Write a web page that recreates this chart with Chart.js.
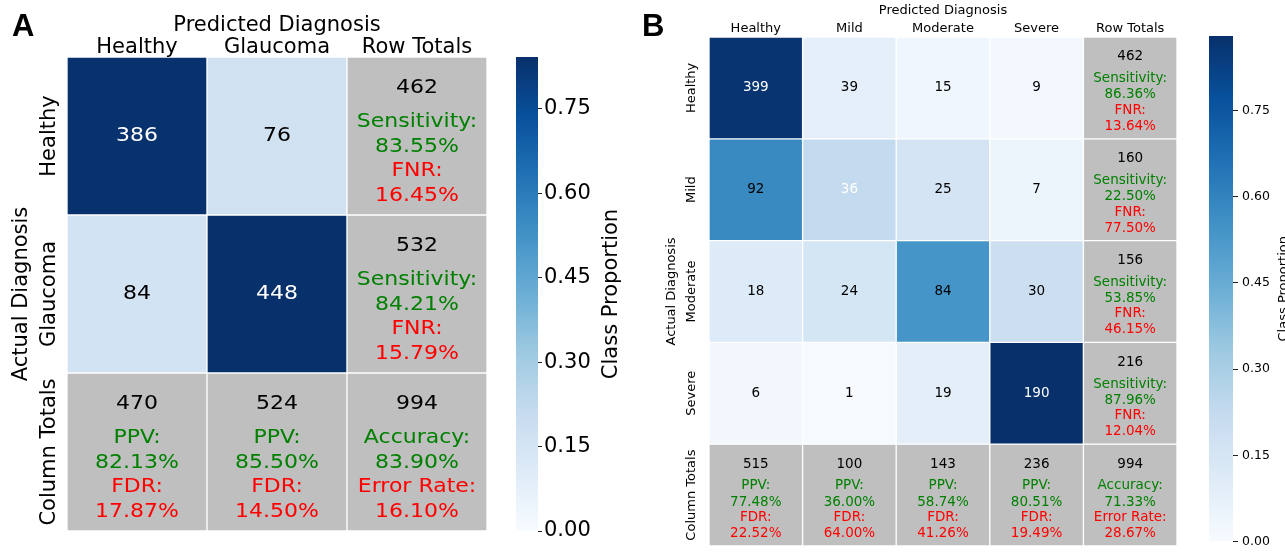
<!DOCTYPE html>
<html lang="en">
<head>
  <meta charset="UTF-8">
  <title>Confusion Matrices</title>
  <script src="https://cdn.jsdelivr.net/npm/chart.js"></script>
  <style>
    html, body { margin: 0; padding: 0; background: #fff; overflow: hidden; }
    .box { position: absolute; top: 0; height: 553px; }
  </style>
</head>
<body>
  <div class="box" style="left:0;width:500px"><canvas id="heatA"></canvas></div>
  <div class="box" style="left:500px;width:140px"><canvas id="barA"></canvas></div>
  <div class="box" style="left:640px;width:550px"><canvas id="heatB"></canvas></div>
  <div class="box" style="left:1190px;width:95px"><canvas id="barB"></canvas></div>

  <script>
    // ---- panel A: binary ----
    const classesA = ['Healthy', 'Glaucoma'];
    const countsA = [[386, 76], [84, 448]];
    const rowTotalsA = [462, 532];
    const sensA = [83.55, 84.21];
    const fnrA = [16.45, 15.79];
    const colTotalsA = [470, 524];
    const ppvA = [82.13, 85.50];
    const fdrA = [17.87, 14.50];
    const totalA = 994;
    const accA = 83.90;
    const errA = 16.10;
    const whiteTextA = ['0-0', '1-1'];

    // ---- panel B: severity ----
    const classesB = ['Healthy', 'Mild', 'Moderate', 'Severe'];
    const countsB = [[399, 39, 15, 9], [92, 36, 25, 7], [18, 24, 84, 30], [6, 1, 19, 190]];
    const rowTotalsB = [462, 160, 156, 216];
    const sensB = [86.36, 22.50, 53.85, 87.96];
    const fnrB = [13.64, 77.50, 46.15, 12.04];
    const colTotalsB = [515, 100, 143, 236];
    const ppvB = [77.48, 36.00, 58.74, 80.51];
    const fdrB = [22.52, 64.00, 41.26, 19.49];
    const totalB = 994;
    const accB = 71.33;
    const errB = 28.67;
    const whiteTextB = ['0-0', '1-1', '3-3'];

    const cbTicks = [0, 0.15, 0.30, 0.45, 0.60, 0.75];

    const FONT = "'DejaVu Sans', sans-serif";
    const GRAY = '#bfbfbf';
    const bluesStops = ['#f7fbff', '#deebf7', '#c6dbef', '#9ecae1', '#6baed6', '#4292c6', '#2171b5', '#08519c', '#08306b'];

    function hexToRgb(h) {
      return [1, 3, 5].map(i => parseInt(h.slice(i, i + 2), 16));
    }

    function blues(t) {
      t = Math.max(0, Math.min(1, t));
      const pos = t * (bluesStops.length - 1);
      const i = Math.min(Math.floor(pos), bluesStops.length - 2);
      const f = pos - i;
      const a = hexToRgb(bluesStops[i]), b = hexToRgb(bluesStops[i + 1]);
      const c = a.map((v, k) => Math.round(v + (b[k] - v) * f));
      return `rgb(${c[0]},${c[1]},${c[2]})`;
    }

    function vmaxOf(counts, rowTotals) {
      let m = 0;
      counts.forEach((row, r) => row.forEach(v => { m = Math.max(m, v / rowTotals[r]); }));
      return m;
    }

    const pct = v => v.toFixed(2) + '%';
    const lineOffsets = [-0.305, -0.09, 0.068, 0.22, 0.378];

    // text drawn a bit wider than the font when sx > 1
    function wideText(ctx, txt, x, y, sx) {
      ctx.save();
      ctx.translate(x, y);
      ctx.scale(sx, 1);
      ctx.fillText(txt, 0, 0);
      ctx.restore();
    }

    function makeHeatmap(id, d, lay) {
      const n = d.classes.length;
      const cols = [...d.classes, 'Row Totals'];
      const rows = [...d.classes, 'Column Totals'];
      const vmax = vmaxOf(d.counts, d.rowTotals);

      const datasets = rows.map((name, r) => ({
        label: name,
        data: cols.map(() => [r, r + 1]),
        backgroundColor: cols.map((_, c) =>
          (r < n && c < n) ? blues(d.counts[r][c] / d.rowTotals[r] / vmax) : GRAY),
        borderColor: '#ffffff',
        borderWidth: 1,
        borderSkipped: false,
        grouped: false,
        barPercentage: 1,
        categoryPercentage: 1
      }));

      const cellText = {
        id: 'cellText',
        afterDatasetsDraw(chart) {
          const ctx = chart.ctx;
          ctx.save();
          ctx.textAlign = 'center';
          ctx.textBaseline = 'middle';
          ctx.font = `${lay.cellFont}px ${FONT}`;
          chart.data.datasets.forEach((ds, r) => {
            chart.getDatasetMeta(r).data.forEach((el, c) => {
              const cx = el.x;
              const cy = (el.y + el.base) / 2;
              const h = Math.abs(el.base - el.y);
              let lines;
              if (r < n && c < n) {
                ctx.fillStyle = d.white.includes(r + '-' + c) ? '#ffffff' : '#000000';
                wideText(ctx, String(d.counts[r][c]), cx, cy, lay.sx);
                return;
              } else if (r < n) {
                lines = [[d.rowTotals[r], '#000'], ['Sensitivity:', 'green'], [pct(d.sens[r]), 'green'],
                         ['FNR:', 'red'], [pct(d.fnr[r]), 'red']];
              } else if (c < n) {
                lines = [[d.colTotals[c], '#000'], ['PPV:', 'green'], [pct(d.ppv[c]), 'green'],
                         ['FDR:', 'red'], [pct(d.fdr[c]), 'red']];
              } else {
                lines = [[d.total, '#000'], ['Accuracy:', 'green'], [pct(d.acc), 'green'],
                         ['Error Rate:', 'red'], [pct(d.err), 'red']];
              }
              lines.forEach(([txt, col], k) => {
                ctx.fillStyle = col;
                wideText(ctx, String(txt), cx, cy + lineOffsets[k] * h, lay.sx);
              });
            });
          });
          ctx.restore();
        }
      };

      const rowLabels = {
        id: 'rowLabels',
        afterDraw(chart) {
          const ctx = chart.ctx;
          const y = chart.scales.y;
          ctx.save();
          ctx.fillStyle = '#000';
          ctx.font = `${lay.labelFont}px ${FONT}`;
          ctx.textAlign = 'center';
          ctx.textBaseline = 'middle';
          rows.forEach((name, r) => {
            ctx.save();
            ctx.translate(lay.rowLabelX, y.getPixelForValue(r + 0.5));
            ctx.rotate(-Math.PI / 2);
            ctx.fillText(name, 0, 0);
            ctx.restore();
          });
          ctx.font = `bold ${lay.letterFont}px 'Liberation Sans', Arial, sans-serif`;
          ctx.textAlign = 'left';
          ctx.textBaseline = 'alphabetic';
          ctx.fillText(lay.letter, lay.letterX, lay.letterY);
          ctx.restore();
        }
      };

      return new Chart(document.getElementById(id), {
        type: 'bar',
        data: { labels: cols, datasets },
        options: {
          responsive: true,
          maintainAspectRatio: false,
          animation: false,
          layout: { padding: lay.padding },
          scales: {
            x: {
              type: 'category',
              position: 'top',
              grid: { display: false },
              border: { display: false },
              ticks: {
                color: '#000',
                font: { family: FONT, size: lay.labelFont },
                padding: lay.tickPad,
                maxRotation: 0,
                autoSkip: false
              },
              title: {
                display: true,
                text: 'Predicted Diagnosis',
                color: '#000',
                font: { family: FONT, size: lay.labelFont },
                padding: { top: lay.xTitlePad, bottom: 0 }
              },
              afterFit(scale) { scale.height = lay.xHeight; }
            },
            y: {
              type: 'linear',
              min: 0,
              max: rows.length,
              reverse: true,
              grid: { display: false },
              border: { display: false },
              ticks: { display: false },
              title: {
                display: true,
                text: 'Actual Diagnosis',
                color: '#000',
                font: { family: FONT, size: lay.labelFont },
                padding: { top: lay.yTitlePad, bottom: 0 }
              },
              afterFit(scale) { scale.width = lay.yWidth; }
            }
          },
          plugins: {
            legend: { display: false },
            tooltip: { enabled: false }
          }
        },
        plugins: [cellText, rowLabels]
      });
    }

    function makeColorbar(id, vmax, lay) {
      const cbTitle = {
        id: 'cbTitle',
        afterDraw(chart) {
          const ctx = chart.ctx;
          const a = chart.chartArea;
          ctx.save();
          ctx.fillStyle = '#000';
          ctx.font = `${lay.titleFont}px ${FONT}`;
          ctx.textAlign = 'center';
          ctx.textBaseline = 'middle';
          ctx.translate(lay.titleX, (a.top + a.bottom) / 2);
          ctx.rotate(-Math.PI / 2);
          ctx.fillText('Class Proportion', 0, 0);
          ctx.restore();
        }
      };

      return new Chart(document.getElementById(id), {
        type: 'bar',
        data: {
          labels: [''],
          datasets: [{
            data: [[0, vmax]],
            backgroundColor(c) {
              const area = c.chart.chartArea;
              if (!area) return bluesStops[4];
              const g = c.chart.ctx.createLinearGradient(0, area.bottom, 0, area.top);
              bluesStops.forEach((s, i) => g.addColorStop(i / (bluesStops.length - 1), s));
              return g;
            },
            barPercentage: 1,
            categoryPercentage: 1
          }]
        },
        options: {
          responsive: true,
          maintainAspectRatio: false,
          animation: false,
          layout: { padding: lay.padding },
          scales: {
            x: { display: false },
            y: {
              type: 'linear',
              position: 'right',
              min: 0,
              max: vmax,
              border: { display: false },
              grid: {
                display: true,
                drawOnChartArea: false,
                drawTicks: true,
                tickLength: lay.tickLen,
                color: '#222'
              },
              ticks: {
                color: '#000',
                font: { family: FONT, size: lay.tickFont },
                padding: lay.tickPad,
                callback: v => v.toFixed(2)
              },
              afterBuildTicks(scale) { scale.ticks = cbTicks.map(v => ({ value: v })); },
              afterFit(scale) { scale.width = lay.yWidth; }
            }
          },
          plugins: {
            legend: { display: false },
            tooltip: { enabled: false }
          }
        },
        plugins: [cbTitle]
      });
    }

    const dataA = {
      classes: classesA, counts: countsA, rowTotals: rowTotalsA, sens: sensA, fnr: fnrA,
      colTotals: colTotalsA, ppv: ppvA, fdr: fdrA, total: totalA, acc: accA, err: errA, white: whiteTextA
    };
    const dataB = {
      classes: classesB, counts: countsB, rowTotals: rowTotalsB, sens: sensB, fnr: fnrB,
      colTotals: colTotalsB, ppv: ppvB, fdr: fdrB, total: totalB, acc: accB, err: errB, white: whiteTextB
    };

    makeHeatmap('heatA', dataA, {
      padding: { left: 0, top: 0, right: 13, bottom: 22 },
      xHeight: 57, yWidth: 67, labelFont: 21, cellFont: 20, sx: 1.1, tickPad: -11,
      xTitlePad: 13, yTitlePad: 9, rowLabelX: 50,
      letter: 'A', letterFont: 31, letterX: 12, letterY: 36
    });
    makeColorbar('barA', vmaxOf(countsA, rowTotalsA), {
      padding: { left: 16, top: 57, right: 0, bottom: 22 },
      yWidth: 102, tickFont: 21, tickLen: 4, tickPad: 2, titleFont: 21, titleX: 112
    });

    makeHeatmap('heatB', dataB, {
      padding: { left: 0, top: 0, right: 13, bottom: 7 },
      xHeight: 37, yWidth: 69, labelFont: 13, cellFont: 13.5, sx: 1, tickPad: -7,
      xTitlePad: 3, yTitlePad: 24, rowLabelX: 52,
      letter: 'B', letterFont: 31, letterX: 2, letterY: 36
    });
    makeColorbar('barB', vmaxOf(countsB, rowTotalsB), {
      padding: { left: 19, top: 36, right: 0, bottom: 6 },
      yWidth: 52, tickFont: 12.5, tickLen: 5, tickPad: 4, titleFont: 13, titleX: 94
    });
  </script>
</body>
</html>
